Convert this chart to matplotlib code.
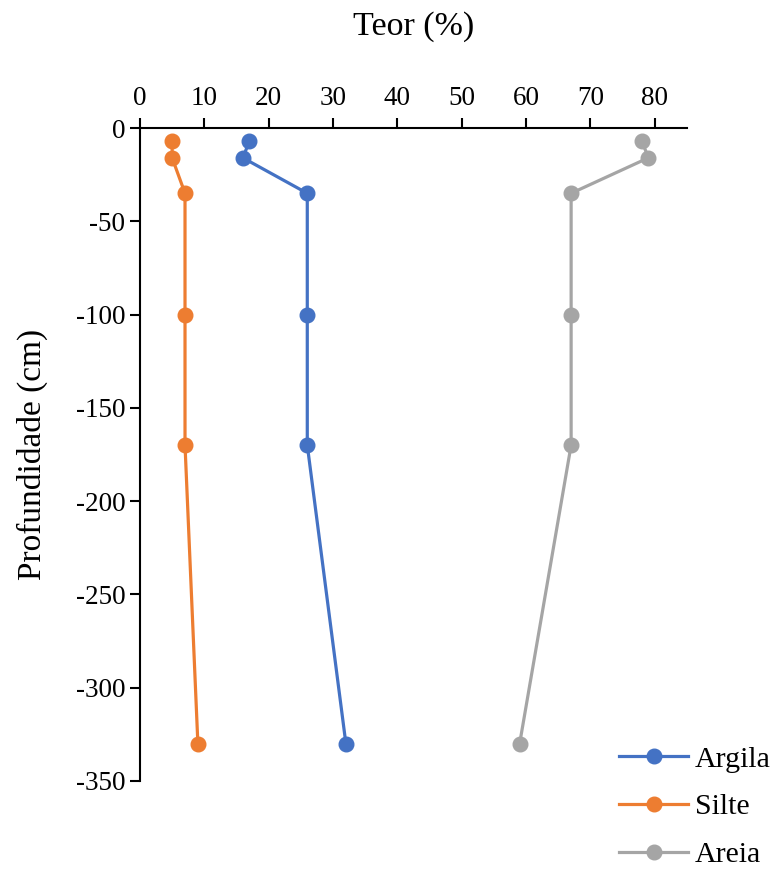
import matplotlib
matplotlib.use("Agg")
import matplotlib.pyplot as plt

# Soil texture profile
depth = [-7, -16, -35, -100, -170, -330]
argila = [17, 16, 26, 26, 26, 32]
silte = [5, 5, 7, 7, 7, 9]
areia = [78, 79, 67, 67, 67, 59]

series = [
    ("Argila", argila, "#4472C4"),
    ("Silte", silte, "#ED7D31"),
    ("Areia", areia, "#A5A5A5"),
]

plt.rcParams["font.family"] = ["Liberation Serif", "DejaVu Serif"]
plt.rcParams["axes.unicode_minus"] = False

fig = plt.figure(figsize=(7.75, 8.69), dpi=100)
ax = fig.add_axes([0.1806, 0.1013, 0.7058, 0.7514])

for name, values, color in series:
    ax.plot(values, depth, color=color, lw=2.3, marker="o", markersize=10.5, label=name)

ax.set_xlim(0, 85)
ax.set_ylim(-350, 0)
ax.set_xticks(range(0, 81, 10))
ax.set_yticks(range(-350, 1, 50))

ax.xaxis.tick_top()
ax.xaxis.set_label_position("top")
ax.spines["right"].set_visible(False)
ax.spines["bottom"].set_visible(False)
for s in ("left", "top"):
    ax.spines[s].set_linewidth(1.5)
ax.tick_params(axis="both", labelsize=19.5, width=1.5, length=7, direction="out")
ax.tick_params(axis="x", pad=5)

ax.set_xlabel("Teor (%)", fontsize=24.5, labelpad=37)
ax.set_ylabel("Profundidade (cm)", fontsize=24, labelpad=20)

ax.legend(loc="center left", bbox_to_anchor=(0.799, 0.0715), bbox_transform=fig.transFigure,
          frameon=False, fontsize=21.5, handlelength=2.3, handletextpad=0.23,
          labelspacing=0.7, borderpad=0, borderaxespad=0)

fig.savefig("out.png", dpi=100)
